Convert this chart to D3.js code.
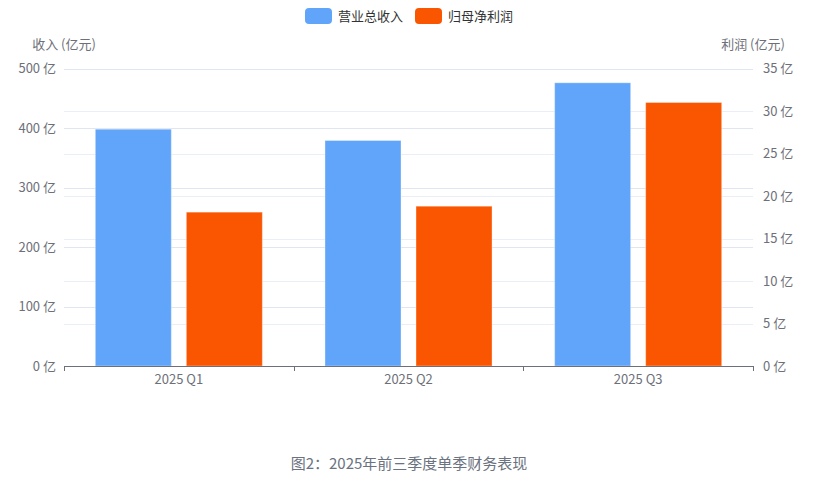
<!DOCTYPE html>
<html>
<head>
<meta charset="utf-8">
<script src="https://cdn.jsdelivr.net/npm/d3@7/dist/d3.min.js"></script>
<style>
  html, body { margin: 0; padding: 0; background: #fff; }
  svg { display: block; font-family: "Noto Sans CJK SC", "Noto Sans", sans-serif; }
</style>
</head>
<body>
<svg id="chart" width="818" height="480"></svg>
<script>
// quarterly single-season figures, 亿元
const quarters = ["2025 Q1", "2025 Q2", "2025 Q3"];
const seriesNames = ["营业总收入", "归母净利润"];
const revenue = [398, 379, 476];
const netProfit = [18.1, 18.8, 31.0];
const revenueTicks = [0, 100, 200, 300, 400, 500];
const profitTicks = [0, 5, 10, 15, 20, 25, 30, 35];

const colors = ["#60a5fa", "#fa5500"];
const textColor = "#6e7079";
const gridColor = "#e0e6f1";

const width = 818;
const margin = { top: 68.5, right: 65, bottom: 114, left: 64 };
const height = 480;

const svg = d3.select("#chart");

const x0 = d3.scaleBand()
  .domain(quarters)
  .range([margin.left, width - margin.right]);

const x1 = d3.scaleBand()
  .domain(seriesNames)
  .range([0, x0.bandwidth()])
  .paddingInner(0.165)
  .paddingOuter(0.344);

const yLeft = d3.scaleLinear()
  .domain([0, 500])
  .range([height - margin.bottom, margin.top]);

const yRight = d3.scaleLinear()
  .domain([0, 35])
  .range([height - margin.bottom, margin.top]);

const plotLeft = margin.left;
const plotRight = width - margin.right;

// split lines for both axes
const grid = svg.append("g");
grid.selectAll("line.gr")
  .data(profitTicks.slice(1))
  .join("line")
  .attr("class", "gr")
  .attr("x1", plotLeft).attr("x2", plotRight)
  .attr("y1", (d) => Math.round(yRight(d)) + 0.5)
  .attr("y2", (d) => Math.round(yRight(d)) + 0.5)
  .attr("stroke", "#eaeef6");

grid.selectAll("line.gl")
  .data(revenueTicks.slice(1))
  .join("line")
  .attr("class", "gl")
  .attr("x1", plotLeft).attr("x2", plotRight)
  .attr("y1", (d) => Math.round(yLeft(d)) + 0.5)
  .attr("y2", (d) => Math.round(yLeft(d)) + 0.5)
  .attr("stroke", gridColor);

// bars
const groups = svg.append("g")
  .selectAll("g")
  .data(quarters)
  .join("g")
  .attr("transform", (d) => `translate(${x0(d)},0)`);

groups.append("rect")
  .attr("x", x1(seriesNames[0]))
  .attr("width", x1.bandwidth())
  .attr("y", (d, i) => yLeft(revenue[i]))
  .attr("height", (d, i) => yLeft(0) - yLeft(revenue[i]))
  .attr("fill", colors[0])
  .attr("stroke", "rgba(255,255,255,0.35)")
  .attr("stroke-width", 1);

groups.append("rect")
  .attr("x", x1(seriesNames[1]))
  .attr("width", x1.bandwidth())
  .attr("y", (d, i) => yRight(netProfit[i]))
  .attr("height", (d, i) => yRight(0) - yRight(netProfit[i]))
  .attr("fill", colors[1])
  .attr("stroke", "rgba(255,255,255,0.35)")
  .attr("stroke-width", 1);

// x axis
const xAxis = d3.axisBottom(x0).tickSize(0).tickPadding(9);
const xg = svg.append("g")
  .attr("transform", `translate(0,${yLeft(0)})`)
  .call(xAxis);
xg.select(".domain").attr("stroke", textColor);
xg.selectAll("text")
  .attr("fill", textColor)
  .style("font-size", "13px")
  .style("font-family", "'Noto Sans CJK SC', sans-serif");

// boundary ticks
const boundaries = quarters.map((q) => x0(q)).concat([x0.range()[1]]);
xg.selectAll("line.bt")
  .data(boundaries)
  .join("line")
  .attr("class", "bt")
  .attr("x1", (d) => Math.round(d) + 0.5)
  .attr("x2", (d) => Math.round(d) + 0.5)
  .attr("y1", 0).attr("y2", 5)
  .attr("stroke", textColor);

// left axis labels
const yl = svg.append("g")
  .attr("transform", `translate(${plotLeft},0)`)
  .call(d3.axisLeft(yLeft).tickValues(revenueTicks).tickSize(0).tickPadding(8)
    .tickFormat((d) => `${d} 亿`));
yl.select(".domain").remove();
yl.selectAll("text")
  .attr("fill", textColor)
  .style("font-size", "13px")
  .style("font-family", "'Noto Sans CJK SC', sans-serif");

// right axis labels
const yr = svg.append("g")
  .attr("transform", `translate(${plotRight},0)`)
  .call(d3.axisRight(yRight).tickValues(profitTicks).tickSize(0).tickPadding(10)
    .tickFormat((d) => `${d} 亿`));
yr.select(".domain").remove();
yr.selectAll("text")
  .attr("fill", textColor)
  .style("font-size", "13px")
  .style("font-family", "'Noto Sans CJK SC', sans-serif");

// axis names
svg.append("text")
  .attr("x", plotLeft)
  .attr("y", 44)
  .attr("dy", "0.35em")
  .attr("text-anchor", "middle")
  .attr("fill", textColor)
  .style("font-size", "13px")
  .text("收入 (亿元)");

svg.append("text")
  .attr("x", plotRight)
  .attr("y", 44)
  .attr("dy", "0.35em")
  .attr("text-anchor", "middle")
  .attr("fill", textColor)
  .style("font-size", "13px")
  .text("利润 (亿元)");

// legend
const legendItems = [
  { name: seriesNames[0], color: colors[0], x: 305 },
  { name: seriesNames[1], color: colors[1], x: 415 },
];
const legend = svg.append("g");
legend.selectAll("rect")
  .data(legendItems)
  .join("rect")
  .attr("x", (d) => d.x)
  .attr("y", 8)
  .attr("width", 27)
  .attr("height", 16)
  .attr("rx", 4)
  .attr("fill", (d) => d.color);
legend.selectAll("text")
  .data(legendItems)
  .join("text")
  .attr("x", (d) => d.x + 33)
  .attr("y", 16)
  .attr("dy", "0.35em")
  .attr("fill", "#333")
  .style("font-size", "13px")
  .text((d) => d.name);

// caption
svg.append("text")
  .attr("x", 409)
  .attr("y", 464)
  .attr("dy", "0.35em")
  .attr("text-anchor", "middle")
  .attr("fill", "#6b7280")
  .style("font-size", "15px")
  .text("图2：2025年前三季度单季财务表现");
</script>
</body>
</html>
